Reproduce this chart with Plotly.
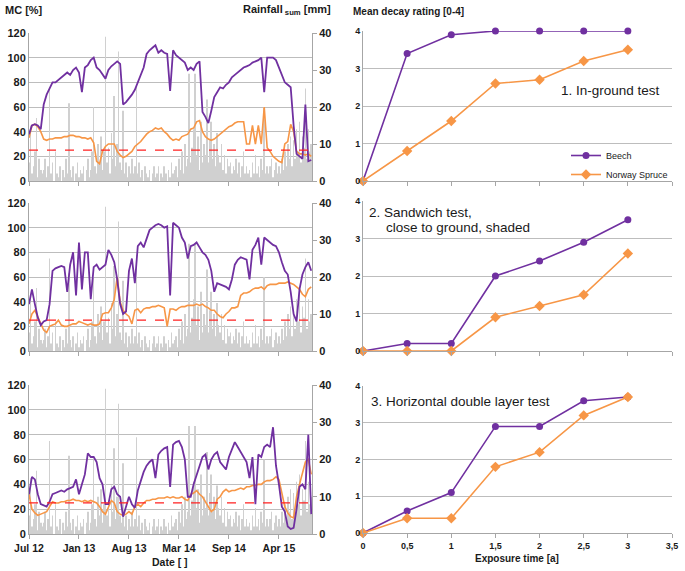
import plotly.graph_objects as go

# ---------------- data ----------------
STEP_DAYS = 12          # spacing of the MC readings (days)
RAIN_STEP_DAYS = 6      # spacing of the rainfall readings (days)
X_END_DAYS = 1155
DATE_TICK_DAYS = [0, 204, 408, 612, 816, 1020]
DATE_TICK_LABELS = ["Jul 12", "Jan 13", "Aug 13", "Mar 14", "Sep 14", "Apr 15"]
FSP = 25  # red dashed threshold line [%]

BEECH_MC_1 = [38, 45, 46, 45, 42, 62, 70, 75, 80, 80, 82, 84, 86, 88, 86, 90, 92, 88, 72, 92,
              94, 98, 100, 92, 90, 86, 83, 90, 93, 95, 97, 95, 62, 64, 67, 70, 74, 80, 85, 92,
              103, 106, 108, 110, 104, 106, 104, 103, 73, 106, 102, 100, 98, 96, 90, 92, 90, 95, 97, 56,
              52, 47, 57, 68, 72, 76, 75, 78, 80, 84, 86, 88, 90, 92, 93, 94, 96, 97, 98, 100,
              72, 100, 100, 100, 98, 92, 85, 80, 78, 76, 45, 22, 20, 18, 62, 16, 17]
SPRUCE_MC_1 = [35, 45, 46, 44, 40, 34, 33, 34, 34, 35, 35, 35, 36, 36, 37, 37, 36, 36, 35, 35,
               34, 35, 31, 16, 14, 24, 28, 30, 30, 30, 24, 21, 19, 20, 22, 24, 28, 30, 32, 35,
               38, 40, 41, 43, 42, 43, 40, 38, 35, 33, 34, 33, 36, 37, 38, 42, 43, 48, 49, 40,
               36, 34, 33, 34, 36, 38, 40, 42, 44, 45, 47, 48, 48, 48, 30, 30, 45, 30, 45, 30,
               60, 27, 24, 20, 18, 16, 15, 30, 32, 46, 40, 24, 22, 22, 21, 22, 20]

BEECH_MC_2 = [38, 50, 38, 27, 21, 24, 25, 38, 65, 67, 68, 69, 68, 48, 70, 80, 45, 88, 50, 80,
              80, 42, 68, 70, 66, 68, 70, 82, 78, 72, 58, 38, 30, 32, 65, 75, 55, 85, 88, 84,
              92, 98, 100, 102, 103, 102, 100, 101, 45, 104, 102, 100, 92, 88, 75, 85, 86, 88, 84, 80,
              78, 74, 65, 48, 55, 54, 53, 52, 50, 58, 70, 74, 76, 75, 74, 58, 82, 86, 92, 70,
              92, 90, 88, 86, 85, 80, 72, 65, 62, 48, 30, 24, 50, 62, 68, 72, 65]
SPRUCE_MC_2 = [22, 30, 33, 28, 22, 17, 15, 20, 21, 22, 25, 21, 20, 20, 21, 22, 22, 24, 23, 22,
               21, 22, 21, 21, 22, 30, 31, 31, 35, 42, 60, 40, 33, 30, 28, 22, 33, 34, 31, 34,
               35, 35, 36, 36, 37, 36, 35, 20, 34, 34, 33, 35, 36, 36, 37, 37, 37, 38, 37, 38,
               36, 35, 33, 33, 30, 28, 27, 30, 32, 35, 35, 36, 45, 47, 47, 48, 50, 51, 51, 52,
               50, 53, 54, 54, 54, 55, 55, 55, 56, 55, 54, 52, 50, 46, 44, 50, 52]

BEECH_MC_3 = [32, 46, 44, 32, 24, 23, 22, 26, 32, 33, 34, 35, 34, 36, 37, 38, 44, 32, 40, 48,
              65, 62, 62, 58, 45, 40, 24, 24, 36, 38, 32, 30, 14, 22, 30, 24, 21, 35, 42, 50,
              55, 58, 60, 45, 64, 67, 69, 70, 38, 72, 74, 75, 70, 60, 30, 30, 40, 48, 55, 62,
              64, 52, 60, 64, 66, 58, 55, 52, 62, 68, 74, 70, 66, 62, 58, 45, 62, 24, 64, 62,
              70, 72, 70, 86, 55, 40, 22, 18, 6, 4, 5, 20, 38, 40, 36, 80, 16]
SPRUCE_MC_3 = [32, 20, 17, 15, 16, 17, 18, 22, 26, 25, 25, 26, 26, 27, 27, 28, 27, 27, 26, 27,
               26, 27, 26, 25, 22, 18, 16, 22, 27, 25, 18, 16, 15, 16, 18, 16, 22, 24, 22, 25,
               27, 27, 28, 28, 29, 29, 29, 30, 29, 30, 29, 29, 30, 28, 27, 32, 33, 35, 32, 30,
               26, 22, 18, 20, 28, 30, 34, 36, 34, 35, 35, 36, 37, 36, 38, 38, 39, 39, 40, 40,
               42, 43, 43, 44, 46, 44, 32, 22, 17, 14, 13, 30, 40, 50, 58, 60, 48]

RAINFALL = [5, 15, 2, 4, 8, 17, 1, 6, 3, 2,
            3, 6, 1, 4, 25, 2, 5, 0, 8, 2,
            1, 4, 0, 3, 1, 6, 2, 21, 3, 1,
            4, 0, 2, 5, 1, 3, 2, 4, 0, 3,
            6, 1, 3, 8, 20, 4, 2, 10, 5, 12,
            3, 8, 39, 5, 9, 2, 13, 6, 23, 4,
            10, 35, 5, 3, 19, 2, 5, 1, 4, 2,
            6, 2, 4, 26, 2, 5, 1, 3, 0, 4,
            2, 1, 3, 0, 2, 4, 1, 2, 4, 0,
            2, 1, 4, 2, 0, 3, 1, 5, 2, 3,
            4, 1, 6, 3, 8, 2, 10, 4, 6, 29,
            5, 9, 14, 29, 7, 12, 3, 16, 5, 10,
            7, 22, 5, 11, 16, 6, 10, 4, 13, 7,
            5, 10, 3, 7, 2, 6, 4, 5, 2, 4,
            3, 6, 2, 5, 1, 4, 8, 2, 4, 2,
            3, 1, 5, 2, 7, 2, 4, 1, 6, 3,
            20, 2, 4, 2, 4, 6, 1, 3, 5, 2,
            4, 2, 6, 3, 8, 4, 10, 6, 12, 4,
            11, 6, 14, 8, 16, 5, 12, 9, 25, 6,
            14, 8, 10]

EXPOSURE = [0, 0.5, 1, 1.5, 2, 2.5, 3]
EXPOSURE_TICKS = [0, 0.5, 1, 1.5, 2, 2.5, 3, 3.5]
EXPOSURE_TICK_LABELS = ["0", "0,5", "1", "1,5", "2", "2,5", "3", "3,5"]
BEECH_DECAY = [
    [0, 3.4, 3.9, 4.0, 4.0, 4.0, 4.0],
    [0, 0.2, 0.2, 2.0, 2.4, 2.9, 3.5],
    [0, 0.6, 1.1, 2.9, 2.9, 3.6, 3.7],
]
SPRUCE_DECAY = [
    [0, 0.8, 1.6, 2.6, 2.7, 3.2, 3.5],
    [0, 0.0, 0.0, 0.9, 1.2, 1.5, 2.6],
    [0, 0.4, 0.4, 1.8, 2.2, 3.2, 3.7],
]
BEECH_MC = [BEECH_MC_1, BEECH_MC_2, BEECH_MC_3]
SPRUCE_MC = [SPRUCE_MC_1, SPRUCE_MC_2, SPRUCE_MC_3]

# ---------------- style ----------------
W, H = 685, 571
FONT = "Liberation Sans, Arial, sans-serif"
PURPLE = "#7030A0"
ORANGE = "#F79646"
RAIN_COL = "#D0D0D0"
AX = "#A6A6A6"
GRID = "#BDBDBD"
TXT = "#1a1a1a"


def px_x(p):
    return p / W


def ydom(top, bot):
    return [1 - bot / H, 1 - top / H]


L_X = [px_x(29), px_x(312)]
R_X = [px_x(363), px_x(672)]
L_Y = [ydom(33, 181), ydom(203, 351), ydom(385, 534)]
R_Y = [ydom(31, 181), ydom(201, 351), ydom(386, 533)]


def ref(p, n):
    return p if n == 1 else f"{p}{n}"


def key(p, n):
    return f"{p}axis" if n == 1 else f"{p}axis{n}"


fig = go.Figure()
layout = {}
tick_font = dict(family=FONT, size=11, color=TXT, weight="bold")
small_tick_font = dict(family=FONT, size=9, color=TXT, weight="bold")

mc_days = [i * STEP_DAYS for i in range(len(BEECH_MC_1))]
rain_days = [i * RAIN_STEP_DAYS for i in range(len(RAINFALL))]

for k in range(3):
    xi, yr, ym = k + 1, 2 * k + 1, 2 * k + 2
    fig.add_trace(go.Bar(x=rain_days, y=RAINFALL, width=2.6, marker=dict(color=RAIN_COL, line_width=0),
                         xaxis=ref("x", xi), yaxis=ref("y", yr), showlegend=False, hoverinfo="skip"))
    fig.add_trace(go.Scatter(x=mc_days, y=SPRUCE_MC[k], mode="lines", line=dict(color=ORANGE, width=1.6),
                             xaxis=ref("x", xi), yaxis=ref("y", ym), showlegend=False))
    fig.add_trace(go.Scatter(x=mc_days, y=BEECH_MC[k], mode="lines", line=dict(color=PURPLE, width=1.8),
                             xaxis=ref("x", xi), yaxis=ref("y", ym), showlegend=False))
    fig.add_trace(go.Scatter(x=[0, X_END_DAYS], y=[FSP, FSP], mode="lines",
                             line=dict(color="#FF2020", width=1.2, dash="dash"),
                             xaxis=ref("x", xi), yaxis=ref("y", ym), showlegend=False))
    layout[key("x", xi)] = dict(domain=L_X, anchor=ref("y", yr), range=[0, X_END_DAYS], automargin=False,
                                tickvals=DATE_TICK_DAYS, ticktext=DATE_TICK_LABELS,
                                showticklabels=(k == 2), ticks="outside", ticklen=4, tickcolor=AX,
                                showline=True, linecolor=AX, linewidth=1, showgrid=False, zeroline=False,
                                tickfont=dict(family=FONT, size=10.5, color=TXT, weight="bold"))
    layout[key("y", yr)] = dict(domain=L_Y[k], anchor=ref("x", xi), side="right", range=[0, 40],
                                automargin=False,
                                tickvals=[0, 10, 20, 30, 40], ticks="outside", ticklen=4, tickcolor=AX,
                                showline=True, linecolor=AX, showgrid=False, zeroline=False,
                                tickfont=tick_font)
    layout[key("y", ym)] = dict(overlaying=ref("y", yr), anchor=ref("x", xi), side="left", range=[0, 120],
                                automargin=False,
                                dtick=20, showgrid=True, gridcolor=GRID, gridwidth=1, showline=True,
                                linecolor=AX, zeroline=False, ticks="", tickfont=tick_font)

for k in range(3):
    xi, yi = 4 + k, 7 + k
    fig.add_trace(go.Scatter(x=EXPOSURE, y=BEECH_DECAY[k], mode="lines+markers", name="Beech",
                             line=dict(color=PURPLE, width=1.6), marker=dict(symbol="circle", size=7, color=PURPLE),
                             xaxis=ref("x", xi), yaxis=ref("y", yi), showlegend=(k == 0), cliponaxis=False))
    fig.add_trace(go.Scatter(x=EXPOSURE, y=SPRUCE_DECAY[k], mode="lines+markers", name="Norway Spruce",
                             line=dict(color=ORANGE, width=1.6), marker=dict(symbol="diamond", size=8, color=ORANGE),
                             xaxis=ref("x", xi), yaxis=ref("y", yi), showlegend=(k == 0), cliponaxis=False))
    layout[key("x", xi)] = dict(domain=R_X, anchor=ref("y", yi), range=[0, 3.5], automargin=False,
                                tickvals=EXPOSURE_TICKS, ticktext=EXPOSURE_TICK_LABELS,
                                showticklabels=(k == 2), ticks="outside", ticklen=4, tickcolor=AX,
                                showline=True, linecolor=AX, showgrid=False, zeroline=False,
                                tickfont=small_tick_font)
    layout[key("y", yi)] = dict(domain=R_Y[k], anchor=ref("x", xi), range=[0, 4], dtick=1, automargin=False,
                                showgrid=True, gridcolor=GRID, showline=True, linecolor=AX,
                                zeroline=False, ticks="", tickfont=small_tick_font)


def ann(text, x, y, size, xanchor="left", bold=False):
    return dict(text=text, x=px_x(x), y=1 - y / H, xref="paper", yref="paper", xanchor=xanchor,
                yanchor="middle", showarrow=False,
                font=dict(family=FONT, size=size, color=TXT, weight="bold" if bold else "normal"))


annotations = [
    ann("MC [%]", 3, 10, 11, bold=True),
    ann("Rainfall<sub> sum</sub> [mm]", 333, 10, 11, xanchor="right", bold=True),
    ann("Mean decay rating [0-4]", 351, 12, 10, bold=True),
    ann("Date [ ]", 170, 562, 10.5, xanchor="center", bold=True),
    ann("Exposure time [a]", 517, 558, 10, xanchor="center", bold=True),
    ann("1. In-ground test", 559, 90, 13.5),
    ann("2. Sandwich test,", 367, 212, 13.5),
    ann("close to ground, shaded", 384, 228, 13.5),
    ann("3. Horizontal double layer test", 369, 401, 13.5),
]

fig.update_layout(**layout)
fig.update_layout(
    width=W, height=H, margin=dict(l=0, r=0, t=0, b=0, autoexpand=False),
    paper_bgcolor="white", plot_bgcolor="white",
    font=dict(family=FONT, color=TXT),
    annotations=annotations,
    legend=dict(x=px_x(566), y=1 - 141 / H, xanchor="left", yanchor="top",
                font=dict(family=FONT, size=9, color=TXT), bgcolor="rgba(0,0,0,0)",
                itemwidth=30, tracegroupgap=0),
)
fig.write_html("out.html", config={"displayModeBar": False},
               post_script="document.body.style.margin='0';document.body.style.overflow='hidden';")
